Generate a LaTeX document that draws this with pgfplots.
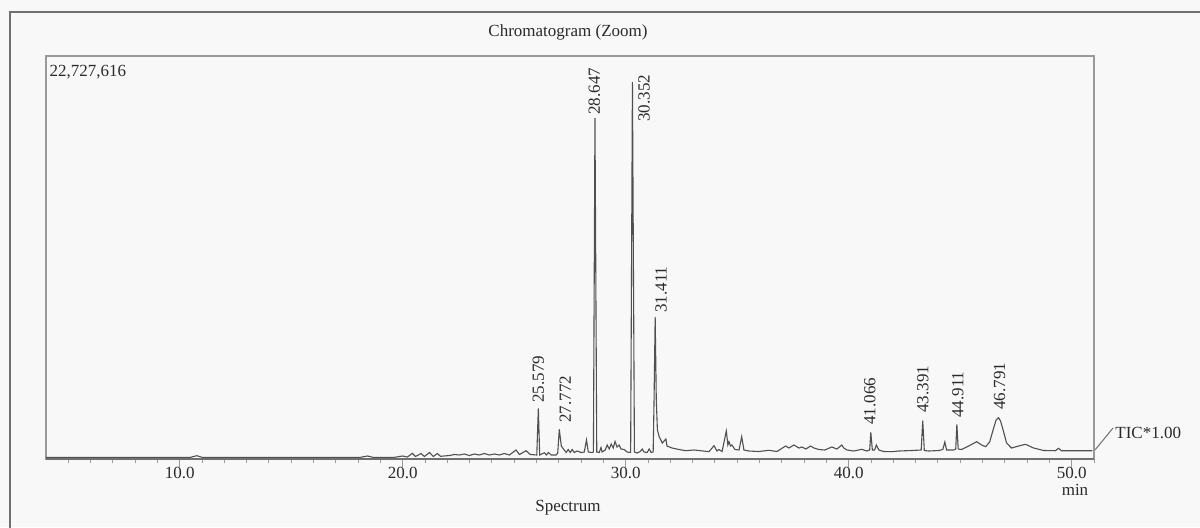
\documentclass[border=0pt]{standalone}
\usepackage{fontspec}
\setmainfont{Liberation Serif}
\usepackage{pgfplots}
\pgfplotsset{compat=1.18}
\definecolor{trace}{HTML}{505050}
\definecolor{boxc}{HTML}{9A9A9A}
\definecolor{framec}{HTML}{707070}
\definecolor{txt}{HTML}{2A2A2A}
\definecolor{bgc}{HTML}{F8F8F8}
\newcommand{\lab}{\fontsize{8.5}{10}\selectfont}

\begin{document}
\begin{tikzpicture}[x=1pt,y=1pt]
\path[use as bounding box, fill=bgc] (0,0) rectangle (600,263.5);
\draw[framec, line width=0.8pt] (5,-2) -- (5,257.5) -- (602,257.5);
\node[font=\lab, text=txt] at (284,247.5) {Chromatogram (Zoom)};
\begin{axis}[
  at={(23pt,34pt)}, anchor=south west,
  scale only axis, width=524pt, height=201.5pt,
  xmin=4, xmax=51, ymin=0, ymax=22.727616,
  ytick=\empty,
  xtick={10,20,30,40,50},
  xticklabels={10.0,20.0,30.0,40.0,50.0},
  minor xtick={5,6,...,51},
  xtick pos=bottom, tick align=outside,
  major tick length=4pt, minor tick length=2.2pt,
  tick style={boxc, line width=0.5pt},
  axis line style={boxc, line width=0.6pt},
  ticklabel style={font=\lab, text=txt},
  xticklabel style={yshift=3.5pt},
  clip=false,
]
\addplot[trace, line width=0.55pt] coordinates {
(4.00,0.085) (10.45,0.085) (10.76,0.186) (11.03,0.085) (18.06,0.085)
(18.42,0.169) (18.69,0.085) (19.63,0.096) (19.99,0.169) (20.21,0.113)
(20.43,0.321) (20.57,0.141) (20.82,0.310) (20.97,0.141) (21.20,0.367)
(21.37,0.141) (21.55,0.310) (21.69,0.152) (22.09,0.197) (22.32,0.254)
(22.54,0.226) (22.76,0.282) (22.99,0.197) (23.21,0.282) (23.43,0.226)
(23.66,0.310) (23.88,0.226) (24.11,0.282) (24.33,0.226) (24.55,0.310)
(24.78,0.226) (25.08,0.508) (25.23,0.254) (25.53,0.468) (25.72,0.254)
(26.01,0.226) (26.08,2.86) (26.14,0.226) (26.35,0.355) (26.44,0.226)
(26.53,0.367) (26.66,0.226) (26.88,0.226) (26.95,0.338) (27.02,1.675)
(27.11,0.733) (27.24,0.508) (27.33,0.367) (27.42,0.536) (27.51,0.367)
(27.60,0.536) (27.69,0.367) (27.82,0.451) (28.00,0.367) (28.14,0.395)
(28.24,1.072) (28.32,0.395) (28.49,0.367) (28.55,0.395) (28.62,19.23)
(28.70,0.395) (28.81,0.367) (28.89,0.649) (28.94,0.395) (29.08,0.508)
(29.17,0.790) (29.26,0.564) (29.35,0.846) (29.44,0.620) (29.52,0.987)
(29.61,0.677) (29.70,0.790) (29.79,0.564) (29.93,0.536) (30.06,0.395)
(30.22,0.367) (30.30,21.26) (30.39,0.395) (30.51,0.338) (30.65,0.423)
(30.74,0.564) (30.82,0.395) (30.96,0.367) (31.05,0.564) (31.14,0.367)
(31.23,0.395) (31.27,3.33) (31.32,8.01) (31.37,3.33) (31.42,1.64)
(31.50,1.26) (31.64,0.902) (31.80,1.128) (31.85,0.733) (32.08,0.620)
(32.39,0.536) (32.69,0.468) (33.06,0.508) (33.29,0.479) (33.73,0.412)
(33.96,0.750) (34.09,0.451) (34.18,0.536) (34.32,0.423) (34.51,1.579)
(34.58,0.790) (34.63,0.976) (34.70,0.733) (34.76,0.790) (34.90,0.536)
(35.08,0.508) (35.20,1.258) (35.30,0.508) (35.52,0.451) (35.97,0.423)
(36.42,0.491) (36.78,0.423) (37.17,0.733) (37.32,0.620) (37.54,0.790)
(37.77,0.620) (37.90,0.677) (38.08,0.564) (38.29,0.733) (38.44,0.620)
(38.66,0.536) (38.93,0.508) (39.24,0.677) (39.47,0.564) (39.69,0.790)
(39.78,0.620) (39.92,0.508) (40.23,0.451) (40.59,0.547) (40.81,0.451)
(40.94,0.508) (40.99,1.506) (41.06,0.508) (41.16,0.508) (41.24,0.790)
(41.35,0.508) (41.57,0.423) (41.93,0.412) (42.24,0.451) (42.83,0.479)
(43.25,0.508) (43.32,2.160) (43.39,0.479) (43.59,0.451) (44.04,0.479)
(44.22,0.536) (44.31,0.959) (44.39,0.508) (44.71,0.508) (44.80,0.564)
(44.85,1.957) (44.91,0.564) (45.06,0.536) (45.38,0.733) (45.74,0.976)
(45.96,0.790) (46.14,0.694) (46.32,0.959) (46.50,1.748) (46.61,2.20)
(46.72,2.329) (46.81,2.14) (46.90,1.748) (47.08,0.902) (47.30,0.620)
(47.62,0.733) (47.93,0.829) (48.29,0.620) (48.74,0.479) (49.27,0.468)
(49.41,0.604) (49.54,0.468) (50.30,0.468) (50.93,0.468)
};
\draw[framec, line width=0.6pt] (rel axis cs:0,0) -- (rel axis cs:1,0);
% peak labels
\begin{scope}[every node/.style={font=\lab, text=txt, rotate=90, anchor=west, inner sep=0pt}]
\node at (axis cs:26.08,3.16) {25.579};
\node at (axis cs:27.29,2.03) {27.772};
\node at (axis cs:28.59,19.40) {28.647};
\node at (axis cs:30.82,19.01) {30.352};
\node at (axis cs:31.59,8.23) {31.411};
\node at (axis cs:40.95,1.92) {41.066};
\node at (axis cs:43.32,2.59) {43.391};
\node at (axis cs:44.89,2.31) {44.911};
\node at (axis cs:46.77,2.76) {46.791};
\end{scope}
\node[font=\lab, text=txt, anchor=north west, inner sep=0pt] at (rel axis cs:0.003,0.978) {22,727,616};
\end{axis}
\draw[framec, line width=0.5pt] (547.5,38.5) -- (556.5,49.5);
\node[font=\lab, text=txt, anchor=west, inner sep=0pt] at (557.5,47) {TIC*1.00};
\node[font=\lab, text=txt] at (537.5,18.5) {min};
\node[font=\lab, text=txt] at (284,9.5) {Spectrum};
\end{tikzpicture}
\end{document}
